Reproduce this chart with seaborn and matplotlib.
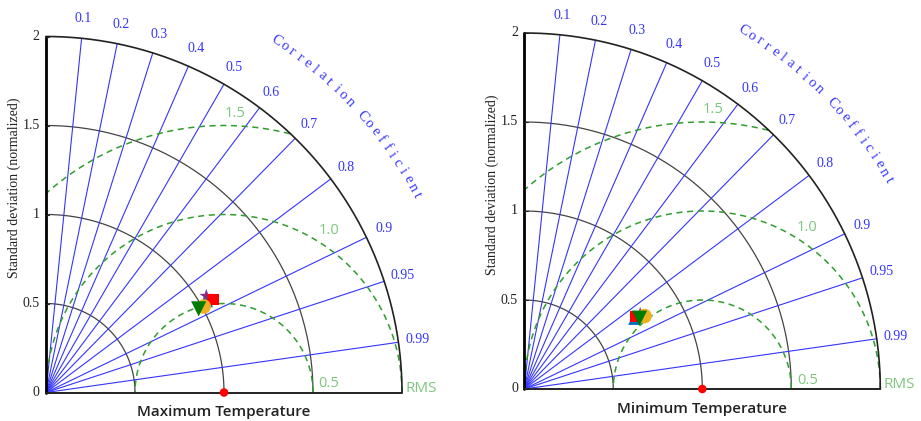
import numpy as np
import pandas as pd
import matplotlib
matplotlib.use("Agg")
import matplotlib.pyplot as plt
import seaborn as sns

sns.set_theme(style="white")

# ---------------- data ----------------
models = ["Model 1", "Model 2", "Model 3", "Model 4", "Model 5"]
markers = ["*", "^", "s", "o", "v"]
colors = ["#7e2f8e", "#0072bd", "#ff0000", "#edb120", "#007a00"]

max_std = [1.051, 1.040, 1.074, 1.009, 0.978]
max_corr = [0.857, 0.870, 0.874, 0.878, 0.877]
min_std = [0.775, 0.732, 0.748, 0.790, 0.760]
min_corr = [0.840, 0.843, 0.839, 0.855, 0.852]

ref_std = 1.0
corr_ticks = [0.1, 0.2, 0.3, 0.4, 0.5, 0.6, 0.7, 0.8, 0.9, 0.95, 0.99]
corr_labels = ["0.1", "0.2", "0.3", "0.4", "0.5", "0.6", "0.7", "0.8", "0.9", "0.95", "0.99"]
std_ticks = [0, 0.5, 1, 1.5, 2]
std_labels = ["0", "0.5", "1", "1.5", "2"]
rms_levels = [0.5, 1.0, 1.5]
rms_labels = ["0.5", "1.0", "1.5"]
titles = ["Maximum Temperature", "Minimum Temperature"]

SERIF = "Liberation Serif"
SANS = "Open Sans"
BLUE = "#3434ff"
GREEN_LINE = "#2e9e2e"
GREEN_TXT = "#7dc77d"
RMAX = 2.0


def taylor(ax, stds, corrs, title, cc_start):
    th = np.linspace(0, np.pi / 2, 300)
    # std arcs
    for r in [0.5, 1.0, 1.5]:
        ax.plot(r * np.cos(th), r * np.sin(th), color="#444444", lw=0.9, clip_on=False, zorder=1)
    ax.plot(RMAX * np.cos(th), RMAX * np.sin(th), color="#222222", lw=1.2, clip_on=False, zorder=2)
    # correlation rays
    for c in corr_ticks:
        a = np.arccos(c)
        ax.plot([0, RMAX * np.cos(a)], [0, RMAX * np.sin(a)], color=BLUE, lw=0.8,
                clip_on=False, zorder=1)
    # rms circles
    t = np.linspace(0, np.pi, 600)
    for r in rms_levels:
        x = ref_std + r * np.cos(t)
        y = r * np.sin(t)
        m = (x ** 2 + y ** 2 > RMAX ** 2 + 1e-9) | (x < 0)
        x = np.where(m, np.nan, x)
        y = np.where(m, np.nan, y)
        ax.plot(x, y, color=GREEN_LINE, lw=1.1, ls=(0, (4, 3)), clip_on=False, zorder=1)
    # rms labels
    rms_pos = {"1.5": (1.06, 1.57), "1.0": (1.59, 0.91), "0.5": (1.59, 0.05)}
    for lab in rms_labels:
        px, py = rms_pos[lab]
        ax.text(px, py, lab, color=GREEN_TXT, fontsize=10.5, family=SANS,
                ha="center", va="center")
    ax.text(2.02, 0.025, "RMS", color=GREEN_TXT, fontsize=11, family=SANS,
            ha="left", va="center")
    # axes lines
    ax.plot([0, 0], [0, RMAX], color="black", lw=2, clip_on=False, zorder=3)
    ax.plot([0, RMAX], [0, 0], color="#222222", lw=1.4, clip_on=False, zorder=3)
    # std tick labels and small ticks
    for v, lab in zip(std_ticks, std_labels):
        ax.text(-0.035, v, lab, ha="right", va="center", fontsize=10, family=SERIF, color="#222222")
        ax.plot([0, 0.018], [v, v], color="#222222", lw=0.8, clip_on=False, zorder=3)
    # corr labels
    for c, lab in zip(corr_ticks, corr_labels):
        a = np.arccos(c)
        ax.text(2.11 * np.cos(a), 2.11 * np.sin(a), lab, ha="center", va="center",
                fontsize=10, family=SERIF, color=BLUE)
    # curved title
    s = "Correlation Coefficient"
    for i, ch in enumerate(s):
        ang = np.deg2rad(cc_start - 1.31 * i)
        ax.text(2.36 * np.cos(ang), 2.36 * np.sin(ang), ch, rotation=np.rad2deg(ang) - 90,
                rotation_mode="anchor", ha="center", va="center", fontsize=10.5,
                family=SERIF, color=BLUE)
    ax.text(-0.18, 1.15, "Standard deviation (normalized)", rotation=90, ha="center",
            va="center", fontsize=10, family=SERIF, color="#222222")
    ax.text(1.0, -0.11, title, ha="center", va="center", fontsize=11, family=SANS,
            fontweight="semibold", color="#222222")

    # reference point
    sns.scatterplot(x=[ref_std], y=[0.0], color="red", s=38, edgecolor="none",
                    ax=ax, clip_on=False, zorder=5, legend=False)
    # models
    df = pd.DataFrame({"model": models, "std": stds, "corr": corrs})
    df["x"] = df["std"] * df["corr"]
    df["y"] = df["std"] * np.sin(np.arccos(df["corr"]))
    sizes = {"Model 1": 110, "Model 2": 75, "Model 3": 70, "Model 4": 110, "Model 5": 120}
    for i, row in df.iterrows():
        sns.scatterplot(data=df.iloc[[i]], x="x", y="y", marker=markers[i],
                        color=colors[i], s=sizes[row["model"]], edgecolor="none",
                        ax=ax, legend=False, zorder=6 + i)

    ax.set_xlim(0, RMAX)
    ax.set_ylim(0, RMAX)
    ax.set_aspect("equal")
    ax.axis("off")


fig = plt.figure(figsize=(9.21, 4.21), dpi=100)
W, H = 921, 421
ax1 = fig.add_axes([46 / W, (H - 392.5) / H, 356 / W, 356 / H])
ax2 = fig.add_axes([524.3 / W, (H - 389) / H, 356 / W, 356 / H])
taylor(ax1, max_std, max_corr, titles[0], 56.8)
taylor(ax2, min_std, min_corr, titles[1], 58.6)
fig.savefig("out.png", dpi=100)
